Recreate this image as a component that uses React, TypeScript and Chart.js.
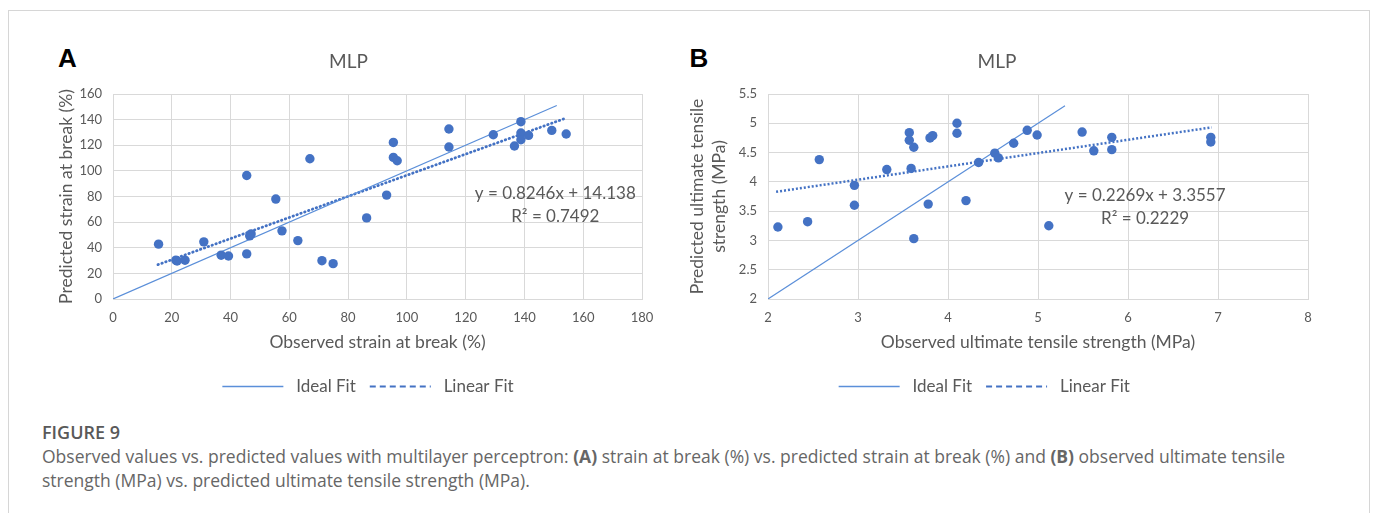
import React, { useEffect, useRef } from 'react';
import { Chart, registerables } from 'chart.js';

Chart.register(...registerables);

// ---------- Data: panel A (strain at break, %) ----------
const observedStrain = [
  15.5, 21.4, 21.8, 24.5, 30.9, 36.8, 39.3, 45.5, 45.5, 46.5, 47.0, 55.4, 57.5, 62.9, 67.0, 71.1,
  74.9, 86.3, 93.1, 95.4, 95.4, 96.7, 114.3, 114.3, 129.4, 136.6, 138.8, 138.8, 138.8, 141.4, 149.3, 154.2,
];
const predictedStrain = [
  42.8, 30.3, 29.7, 30.3, 44.6, 34.2, 33.6, 96.4, 35.2, 49.3, 50.8, 78.0, 53.2, 45.6, 109.5, 29.9,
  27.6, 63.3, 81.1, 122.2, 110.5, 107.9, 132.7, 118.6, 128.2, 119.4, 138.4, 129.6, 124.3, 127.7, 131.6, 128.8,
];
const idealFitA_x = [0, 151];
const idealFitA_y = [0, 151];
const linearFitA_x = [15.3, 153.3];
const linearFitA_y = [26.8, 140.5];
const xTicksA = [0, 20, 40, 60, 80, 100, 120, 140, 160, 180];
const yTicksA = [0, 20, 40, 60, 80, 100, 120, 140, 160];
const equationA = ['y = 0.8246x + 14.138', 'R² = 0.7492'];

// ---------- Data: panel B (ultimate tensile strength, MPa) ----------
const observedUTS = [
  2.11, 2.44, 2.57, 2.96, 2.96, 3.32, 3.57, 3.57, 3.62, 3.59, 3.62, 3.78, 3.80, 3.83, 4.10,
  4.10, 4.20, 4.34, 4.52, 4.56, 4.73, 4.88, 4.99, 5.12, 5.49, 5.62, 5.82, 5.82, 6.92, 6.92,
];
const predictedUTS = [
  3.23, 3.32, 4.38, 3.94, 3.60, 4.21, 4.84, 4.71, 4.59, 4.23, 3.03, 3.62, 4.75, 4.79, 5.00,
  4.83, 3.68, 4.33, 4.49, 4.41, 4.66, 4.88, 4.80, 3.25, 4.85, 4.53, 4.76, 4.55, 4.76, 4.68,
];
const idealFitB_x = [2, 5.3];
const idealFitB_y = [2, 5.3];
const linearFitB_x = [2.09, 6.93];
const linearFitB_y = [3.83, 4.93];
const xTicksB = [2, 3, 4, 5, 6, 7, 8];
const yTicksB = [2, 2.5, 3, 3.5, 4, 4.5, 5, 5.5];
const equationB = ['y = 0.2269x + 3.3557', 'R² = 0.2229'];

const FONT = 'Lato, "Open Sans", sans-serif';
const TEXT_GRAY = '#595959';
const GRID = '#d9d9d9';
const POINT_BLUE = '#4472C4';
const IDEAL_BLUE = '#5b8fd9';

const pts = (xs: number[], ys: number[]) => xs.map((x, i) => ({ x, y: ys[i] }));

const equationPlugin = {
  id: 'equation',
  afterDatasetsDraw(chart: any, _args: any, opts: any) {
    if (!opts || !opts.lines) return;
    const { ctx, scales } = chart;
    const px = scales.x.getPixelForValue(opts.x);
    const py = scales.y.getPixelForValue(opts.y);
    ctx.save();
    ctx.font = `17px ${FONT}`;
    ctx.fillStyle = TEXT_GRAY;
    ctx.textAlign = 'center';
    ctx.textBaseline = 'middle';
    opts.lines.forEach((t: string, i: number) => ctx.fillText(t, px, py + i * 23));
    ctx.restore();
  },
};

// nudges the legend row horizontally (Excel centres it slightly differently)
const legendShiftPlugin = {
  id: 'legendShift',
  afterLayout(chart: any, _args: any, opts: any) {
    const dx = (opts && opts.dx) || 0;
    if (chart.legend && dx) {
      chart.legend.left += dx;
      chart.legend.right += dx;
    }
  },
};

type PanelProps = {
  left: number;
  top: number;
  width: number;
  height: number;
  padLeft: number;
  padRight: number;
  yAxisWidth: number;
  legendDx: number;
  linDash: number[];
  linWidth: number;
  linCap: string;
  xs: number[];
  ys: number[];
  idealX: number[];
  idealY: number[];
  linX: number[];
  linY: number[];
  xMin: number;
  xMax: number;
  yMin: number;
  yMax: number;
  xTicks: number[];
  yTicks: number[];
  xTitle: string;
  yTitle: string | string[];
  equation: string[];
  eqX: number;
  eqY: number;
};

function ScatterPanel(p: PanelProps) {
  const ref = useRef<HTMLCanvasElement | null>(null);
  useEffect(() => {
    if (!ref.current) return;
    const tickFont = { family: FONT, size: 13 };
    const titleFont = { family: FONT, size: 17.5, lineHeight: 22 / 17.5 };
    const chart = new Chart(ref.current, {
      type: 'scatter',
      data: {
        datasets: [
          {
            label: 'Data',
            data: pts(p.xs, p.ys),
            backgroundColor: POINT_BLUE,
            borderColor: POINT_BLUE,
            borderWidth: 0,
            pointRadius: 4.7,
            pointHoverRadius: 4.7,
          },
          {
            label: 'Ideal Fit',
            data: pts(p.idealX, p.idealY),
            showLine: true,
            borderColor: IDEAL_BLUE,
            backgroundColor: IDEAL_BLUE,
            borderWidth: 1.2,
            pointRadius: 0,
            fill: false,
          },
          {
            label: 'Linear Fit',
            data: pts(p.linX, p.linY),
            showLine: true,
            borderColor: POINT_BLUE,
            backgroundColor: POINT_BLUE,
            borderWidth: p.linWidth,
            borderDash: p.linDash,
            borderCapStyle: p.linCap,
            pointRadius: 0,
            fill: false,
          },
        ],
      } as any,
      options: {
        responsive: false,
        animation: false,
        events: [],
        layout: { padding: { left: p.padLeft, right: p.padRight, top: 0, bottom: 0 } },
        plugins: {
          tooltip: { enabled: false },
          title: {
            display: true,
            text: 'MLP',
            color: TEXT_GRAY,
            font: { family: FONT, size: 19, weight: 'normal', lineHeight: 1.2 },
            padding: { top: 20.6, bottom: 20.6 },
          },
          legend: {
            position: 'bottom',
            labels: {
              usePointStyle: true,
              pointStyleWidth: 61,
              padding: 14,
              color: TEXT_GRAY,
              font: { family: FONT, size: 17 },
              generateLabels: (chart: any) =>
                (Chart.defaults.plugins.legend.labels.generateLabels as any)(chart)
                  .filter((it: any) => it.datasetIndex !== 0)
                  .map((it: any) => ({
                    ...it,
                    text: ' ' + it.text,
                    pointStyle: 'line',
                    lineCap: 'butt',
                    lineDash: it.datasetIndex === 2 ? [6, 4] : [],
                    lineWidth: it.datasetIndex === 2 ? 2 : 1.3,
                  })),
            },
          },
          legendShift: { dx: p.legendDx },
          equation: { lines: p.equation, x: p.eqX, y: p.eqY },
        } as any,
        scales: {
          x: {
            type: 'linear',
            min: p.xMin,
            max: p.xMax,
            afterBuildTicks: (s: any) => {
              s.ticks = p.xTicks.map((v) => ({ value: v }));
            },
            ticks: {
              color: TEXT_GRAY,
              font: tickFont,
              padding: 11,
              autoSkip: false,
              maxRotation: 0,
              callback: (v: any) => String(v),
            },
            grid: { color: GRID, drawTicks: false },
            border: { color: GRID },
            title: {
              display: true,
              text: p.xTitle,
              color: TEXT_GRAY,
              font: titleFont,
              padding: { top: 0, bottom: 11 },
            },
            afterFit: (s: any) => {
              s.height = 65;
              s.paddingLeft = 0;
              s.paddingRight = 0;
            },
          },
          y: {
            type: 'linear',
            min: p.yMin,
            max: p.yMax,
            afterBuildTicks: (s: any) => {
              s.ticks = p.yTicks.map((v) => ({ value: v }));
            },
            ticks: {
              color: TEXT_GRAY,
              font: tickFont,
              padding: 11,
              autoSkip: false,
              callback: (v: any) => String(v),
            },
            grid: { color: GRID, drawTicks: false },
            border: { color: GRID },
            title: {
              display: true,
              text: p.yTitle,
              color: TEXT_GRAY,
              font: titleFont,
              padding: { top: 0, bottom: 0 },
            },
            afterFit: (s: any) => {
              s.width = p.yAxisWidth;
              s.paddingTop = 0;
              s.paddingBottom = 0;
            },
          },
        },
      } as any,
      plugins: [equationPlugin, legendShiftPlugin],
    });
    return () => chart.destroy();
  }, []);
  return (
    <canvas
      ref={ref}
      width={p.width}
      height={p.height}
      style={{ position: 'absolute', left: p.left, top: p.top, width: p.width, height: p.height, display: 'block' }}
    />
  );
}

const letterStyle: React.CSSProperties = {
  position: 'absolute',
  top: 44.5,
  fontFamily: '"Liberation Sans", Arial, sans-serif',
  fontWeight: 'bold',
  fontSize: 26,
  lineHeight: '26px',
  color: '#000',
};

export default function App() {
  return (
    <div
      style={{
        position: 'absolute',
        left: 0,
        top: 0,
        width: 1375,
        height: 513,
        background: '#fff',
        overflow: 'hidden',
      }}
    >
      <div
        style={{
          position: 'absolute',
          left: 8,
          top: 10,
          width: 1362,
          height: 540,
          border: '1px solid #d6d6d6',
          boxSizing: 'border-box',
        }}
      />
      <div style={{ ...letterStyle, left: 58 }}>A</div>
      <div style={{ ...letterStyle, left: 689.5 }}>B</div>

      <ScatterPanel
        left={40}
        top={30}
        width={613}
        height={375}
        padLeft={15}
        padRight={11}
        yAxisWidth={58}
        legendDx={19.5}
        linDash={[0.5, 3.6]}
        linWidth={2.8}
        linCap="round"
        xs={observedStrain}
        ys={predictedStrain}
        idealX={idealFitA_x}
        idealY={idealFitA_y}
        linX={linearFitA_x}
        linY={linearFitA_y}
        xMin={0}
        xMax={180}
        yMin={0}
        yMax={160}
        xTicks={xTicksA}
        yTicks={yTicksA}
        xTitle="Observed strain at break (%)"
        yTitle="Predicted strain at break (%)"
        equation={equationA}
        eqX={150.5}
        eqY={82.4}
      />
      <ScatterPanel
        left={680}
        top={30}
        width={639}
        height={375}
        padLeft={6}
        padRight={11}
        yAxisWidth={82}
        legendDx={-12.7}
        linDash={[2, 2]}
        linWidth={2.5}
        linCap="butt"
        xs={observedUTS}
        ys={predictedUTS}
        idealX={idealFitB_x}
        idealY={idealFitB_y}
        linX={linearFitB_x}
        linY={linearFitB_y}
        xMin={2}
        xMax={8}
        yMin={2}
        yMax={5.5}
        xTicks={xTicksB}
        yTicks={yTicksB}
        xTitle="Observed ultimate tensile strength (MPa)"
        yTitle={['Predicted ultimate tensile', 'strength (MPa)']}
        equation={equationB}
        eqX={6.19}
        eqY={3.767}
      />

      <div
        style={{
          position: 'absolute',
          left: 42,
          top: 420,
          width: 1295,
          fontFamily: '"Open Sans", sans-serif',
          color: '#666',
        }}
      >
        <div style={{ fontSize: 18, fontWeight: 600, lineHeight: '24px', color: '#595959' }}>FIGURE 9</div>
        <div style={{ fontSize: 17.5, lineHeight: '24px' }}>
          Observed values vs. predicted values with multilayer perceptron: <b style={{ fontWeight: 700 }}>(A)</b> strain at
          break (%) vs. predicted strain at break (%) and <b style={{ fontWeight: 700 }}>(B)</b> observed ultimate tensile
          strength (MPa) vs. predicted ultimate tensile strength (MPa).
        </div>
      </div>
    </div>
  );
}
